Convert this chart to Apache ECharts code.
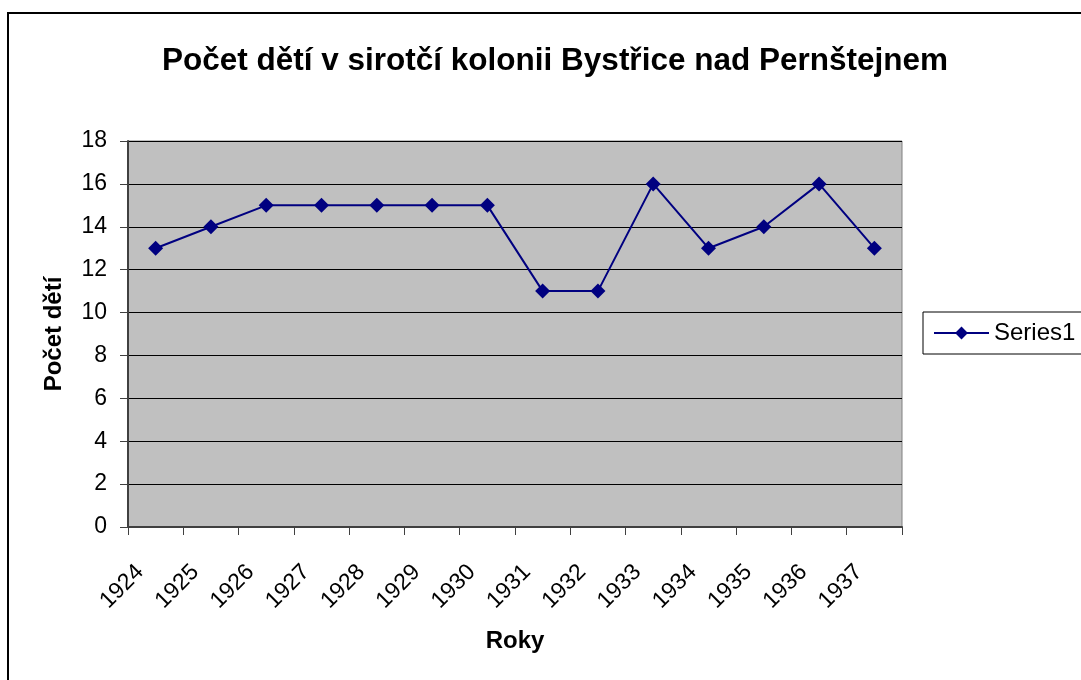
<!DOCTYPE html>
<html>
<head>
<meta charset="utf-8">
<script src="https://cdn.jsdelivr.net/npm/echarts@6/dist/echarts.min.js"></script>
<style>
  html, body { margin: 0; padding: 0; background: #fff; }
  #chart { width: 1081px; height: 680px; }
</style>
</head>
<body>
<div id="chart"></div>
<script>
const chart = echarts.init(document.getElementById("chart"));
const YEARS = ["1924", "1925", "1926", "1927", "1928", "1929", "1930",
  "1931", "1932", "1933", "1934", "1935", "1936", "1937"];
const SERIES1 = [13, 14, 15, 15, 15, 15, 15, 11, 11, 16, 13, 14, 16, 13];
const FONT = "'Liberation Sans', Arial, sans-serif";

chart.setOption({
  animation: false,
  graphic: [{
    type: "rect",
    shape: { x: 8, y: 13, width: 1200, height: 800 },
    style: { fill: "none", stroke: "#000", lineWidth: 2 },
    silent: true
  }],
  title: {
    text: "Počet dětí v sirotčí kolonii Bystřice nad Pernštejnem",
    left: 550,
    textAlign: "center",
    top: 40,
    textStyle: { fontFamily: FONT, fontSize: 31.5, fontWeight: "bold", color: "#000" }
  },
  legend: {
    data: ["Series1"],
    left: 923,
    top: 312,
    orient: "vertical",
    itemWidth: 55,
    itemHeight: 16,
    itemGap: 5,
    padding: [9, 40, 9, 10],
    borderColor: "#000",
    borderWidth: 1,
    backgroundColor: "#fff",
    textStyle: { fontFamily: FONT, fontSize: 24, color: "#000" }
  },
  grid: {
    left: 128,
    right: 179,
    top: 141,
    bottom: 153,
    show: true,
    backgroundColor: "#c0c0c0",
    borderColor: "#808080",
    borderWidth: 1
  },
  xAxis: {
    type: "category",
    data: YEARS,
    boundaryGap: true,
    name: "Roky",
    nameLocation: "middle",
    nameGap: 102,
    nameTextStyle: { fontFamily: FONT, fontSize: 24, fontWeight: "bold", color: "#000" },
    axisLine: { lineStyle: { color: "#404040", width: 2 } },
    axisTick: { show: true, length: 8, lineStyle: { color: "#404040" } },
    axisLabel: {
      interval: 0,
      rotate: 45,
      margin: 26,
      padding: [0, 22, 0, 0],
      fontFamily: FONT,
      fontSize: 23,
      color: "#000"
    }
  },
  yAxis: {
    type: "value",
    min: 0,
    max: 18,
    interval: 2,
    name: "Počet dětí",
    nameLocation: "middle",
    nameGap: 62,
    nameTextStyle: { fontFamily: FONT, fontSize: 24, fontWeight: "bold", color: "#000" },
    axisLine: { show: true, lineStyle: { color: "#404040", width: 2 } },
    axisTick: { show: true, length: 8, lineStyle: { color: "#404040" } },
    axisLabel: { margin: 21, fontFamily: FONT, fontSize: 23, color: "#000" },
    splitLine: { lineStyle: { color: "#000", width: 1 } }
  },
  series: [{
    name: "Series1",
    type: "line",
    data: SERIES1,
    symbol: "diamond",
    symbolSize: 15,
    lineStyle: { color: "#000080", width: 2 },
    itemStyle: { color: "#000080" }
  }]
});
</script>
</body>
</html>
